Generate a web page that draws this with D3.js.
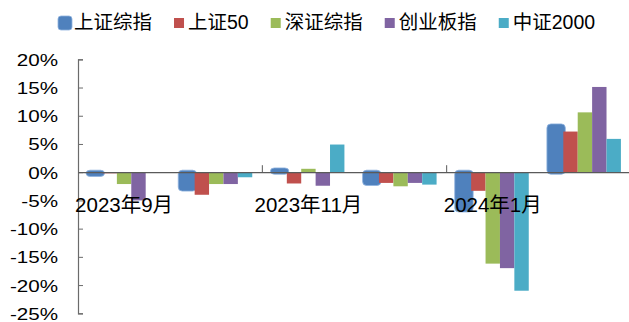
<!DOCTYPE html>
<html><head><meta charset="utf-8">
<script src="https://cdn.jsdelivr.net/npm/d3@7/dist/d3.min.js"></script>
<style>
html,body{margin:0;padding:0;background:#fff;overflow:hidden;}
svg{display:block;}
</style></head>
<body>
<svg id="chart" width="629" height="322"></svg>
<script>
const categories = ["2023年9月","2023年10月","2023年11月","2023年12月","2024年1月","2024年2月"];
const seriesNames = ["上证综指","上证50","深证综指","创业板指","中证2000"];
const seriesColors = ["#4F81BD","#C0504D","#9BBB59","#8064A2","#4BACC6"];
const szzz = [-0.4, -3.0, 0.4, -2.0, -6.7, 8.2];
const sz50 = [-0.2, -4.0, -2.0, -1.9, -3.3, 7.2];
const szzs = [-2.1, -2.1, 0.6, -2.5, -16.2, 10.6];
const cybz = [-5.0, -2.1, -2.4, -1.9, -17.0, 15.1];
const zz2000 = [-0.1, -0.9, 4.9, -2.2, -21.0, 5.9];
const seriesValues = [szzz, sz50, szzs, cybz, zz2000];
const yTicks = [20, 15, 10, 5, 0, -5, -10, -15, -20, -25];
const xLabelEvery = 2;

const svg = d3.select("#chart");
const fontLatin = "'Liberation Sans', Arial, 'Noto Sans CJK SC', sans-serif";

const x0 = d3.scaleBand().domain(categories).range([78, 631]).paddingInner(0).paddingOuter(0);
const x1 = d3.scaleBand().domain(seriesNames).range([0, x0.bandwidth()]).paddingInner(0).paddingOuter(0.7);
const y = d3.scaleLinear().domain([-25, 20]).range([313.3, 59.3]);

// bars
const groups = svg.append("g").selectAll("g").data(categories).join("g")
  .attr("transform", d => `translate(${x0(d)},0)`);
seriesNames.forEach((name, si) => {
  const vals = seriesValues[si];
  groups.append("rect").each(function(cat, ci) {
    const v = vals[ci];
    const sel = d3.select(this);
    let xx = x1(name), w = x1.bandwidth();
    let yy = y(Math.max(0, v)), h = Math.abs(y(v) - y(0));
    if (si === 0) {
      sel.attr("x", xx - 2).attr("y", yy - 2).attr("width", w + 4).attr("height", h + 4)
        .attr("rx", 4).attr("fill", seriesColors[si])
        .attr("stroke", "#8fb3de").attr("stroke-width", 0.8);
    } else {
      sel.attr("x", xx).attr("y", yy).attr("width", w).attr("height", Math.max(h, 0.8))
        .attr("fill", seriesColors[si]);
    }
  });
});

// y axis
const yAxis = d3.axisLeft(y).tickValues(yTicks).tickSize(-5).tickFormat(d => d + "%");
const yg = svg.append("g").attr("transform", "translate(78,0)").call(yAxis);
yg.select(".domain").attr("stroke", "#6b6b6b").attr("stroke-width", 1.2);
yg.selectAll(".tick line").attr("stroke", "#6b6b6b");
yg.selectAll(".tick text")
  .attr("x", 0).attr("dy", "0.36em")
  .attr("transform", "translate(-20,0) scale(1.25,1)")
  .attr("text-anchor", "end")
  .style("font-family", fontLatin).style("font-size", "16.5px").attr("fill", "#000");

// zero line / category axis
const xAxis = d3.axisBottom(x0)
  .tickValues(categories.filter((d, i) => i % xLabelEvery === 0))
  .tickSize(0).tickPadding(25);
const xg = svg.append("g").attr("transform", `translate(0,${y(0)})`).call(xAxis);
xg.select(".domain").attr("stroke", "#5a5a5a").attr("stroke-width", 1.3);
xg.selectAll(".tick text")
  .style("font-family", fontLatin).style("font-size", "20.5px").attr("fill", "#000");
// category boundary ticks (every other boundary)
const boundaries = d3.range(0, categories.length + 1, xLabelEvery)
  .map(i => i < categories.length ? x0(categories[i]) : x0.range()[1]);
svg.append("g").selectAll("line").data(boundaries.slice(1)).join("line")
  .attr("x1", d => d).attr("x2", d => d)
  .attr("y1", y(0) - 7).attr("y2", y(0))
  .attr("stroke", "#5a5a5a").attr("stroke-width", 1);

// legend
const legend = svg.append("g").attr("transform", "translate(0,0)");
let lx = 60;
seriesNames.forEach((name, i) => {
  const g = legend.append("g");
  if (i === 0) {
    g.append("rect").attr("x", lx - 2).attr("y", 16).attr("width", 14).attr("height", 14)
      .attr("rx", 3).attr("fill", seriesColors[i]).attr("stroke", "#8fb3de").attr("stroke-width", 0.8);
  } else {
    g.append("rect").attr("x", lx).attr("y", 18).attr("width", 10).attr("height", 10)
      .attr("fill", seriesColors[i]);
  }
  const t = g.append("text").attr("x", lx + 14).attr("y", 29)
    .style("font-family", fontLatin).style("font-size", "19.5px").attr("fill", "#000").text(name);
  lx += 14 + t.node().getComputedTextLength() + 22;
});
</script>
</body></html>
